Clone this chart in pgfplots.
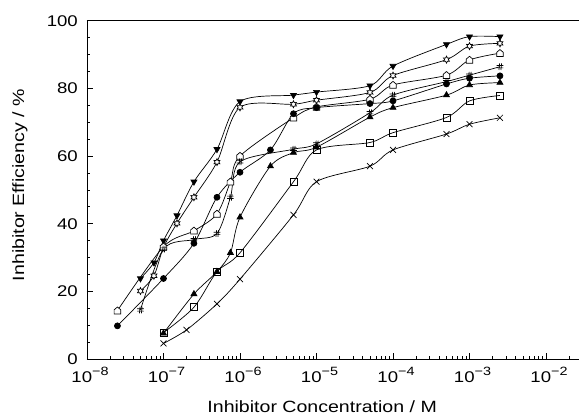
\documentclass[border=0pt]{standalone}
\usepackage{fontspec}
\setmainfont{Liberation Sans}[FakeStretch=1.2]
\usepackage{pgfplots}
\pgfplotsset{compat=1.18}
\usetikzlibrary{plotmarks}

\pgfdeclareplotmark{hexstar}{%
  \pgfpathmoveto{\pgfqpointpolar{90}{1.15\pgfplotmarksize}}%
  \pgfpathlineto{\pgfqpointpolar{120}{0.62\pgfplotmarksize}}%
  \pgfpathlineto{\pgfqpointpolar{150}{1.15\pgfplotmarksize}}%
  \pgfpathlineto{\pgfqpointpolar{180}{0.62\pgfplotmarksize}}%
  \pgfpathlineto{\pgfqpointpolar{210}{1.15\pgfplotmarksize}}%
  \pgfpathlineto{\pgfqpointpolar{240}{0.62\pgfplotmarksize}}%
  \pgfpathlineto{\pgfqpointpolar{270}{1.15\pgfplotmarksize}}%
  \pgfpathlineto{\pgfqpointpolar{300}{0.62\pgfplotmarksize}}%
  \pgfpathlineto{\pgfqpointpolar{330}{1.15\pgfplotmarksize}}%
  \pgfpathlineto{\pgfqpointpolar{0}{0.62\pgfplotmarksize}}%
  \pgfpathlineto{\pgfqpointpolar{30}{1.15\pgfplotmarksize}}%
  \pgfpathlineto{\pgfqpointpolar{60}{0.62\pgfplotmarksize}}%
  \pgfpathclose
  \pgfusepathqfillstroke}
\pgfdeclareplotmark{house}{%
  \pgfpathmoveto{\pgfqpoint{-\pgfplotmarksize}{-\pgfplotmarksize}}%
  \pgfpathlineto{\pgfqpoint{\pgfplotmarksize}{-\pgfplotmarksize}}%
  \pgfpathlineto{\pgfqpoint{\pgfplotmarksize}{0.25\pgfplotmarksize}}%
  \pgfpathlineto{\pgfqpoint{0pt}{1.1\pgfplotmarksize}}%
  \pgfpathlineto{\pgfqpoint{-\pgfplotmarksize}{0.25\pgfplotmarksize}}%
  \pgfpathclose
  \pgfusepathqfillstroke}
\pgfdeclareplotmark{hash}{%
  \pgfpathmoveto{\pgfqpoint{-0.3\pgfplotmarksize}{-\pgfplotmarksize}}%
  \pgfpathlineto{\pgfqpoint{-0.1\pgfplotmarksize}{\pgfplotmarksize}}%
  \pgfpathmoveto{\pgfqpoint{0.3\pgfplotmarksize}{-\pgfplotmarksize}}%
  \pgfpathlineto{\pgfqpoint{0.5\pgfplotmarksize}{\pgfplotmarksize}}%
  \pgfpathmoveto{\pgfqpoint{-\pgfplotmarksize}{0.35\pgfplotmarksize}}%
  \pgfpathlineto{\pgfqpoint{\pgfplotmarksize}{0.35\pgfplotmarksize}}%
  \pgfpathmoveto{\pgfqpoint{-\pgfplotmarksize}{-0.35\pgfplotmarksize}}%
  \pgfpathlineto{\pgfqpoint{\pgfplotmarksize}{-0.35\pgfplotmarksize}}%
  \pgfusepathqstroke}

\newcommand{\ex}[1]{10\raisebox{0.45em}{\fontsize{12}{12}\selectfont −#1}}

\begin{document}
\begin{tikzpicture}
\begin{axis}[
  scale only axis,
  width=492pt, height=338.3pt,
  xmode=log,
  xmin=1e-8, xmax=0.02698,
  ymin=0, ymax=100,
  axis x line*=box, axis y line*=left,
  tick pos=left,
  axis line style={line width=0.9pt},
  xtick={1e-8,1e-7,1e-6,1e-5,1e-4,1e-3,1e-2},
  xticklabels={\ex{8},\ex{7},\ex{6},\ex{5},\ex{4},\ex{3},\ex{2}},
  minor xtick={2e-8,3e-8,4e-8,5e-8,6e-8,7e-8,8e-8,9e-8,
               2e-7,3e-7,4e-7,5e-7,6e-7,7e-7,8e-7,9e-7,
               2e-6,3e-6,4e-6,5e-6,6e-6,7e-6,8e-6,9e-6,
               2e-5,3e-5,4e-5,5e-5,6e-5,7e-5,8e-5,9e-5,
               2e-4,3e-4,4e-4,5e-4,6e-4,7e-4,8e-4,9e-4,
               2e-3,3e-3,4e-3,5e-3,6e-3,7e-3,8e-3,9e-3,2e-2},
  ytick={0,20,40,60,80,100},
  minor y tick num=3,
  major tick length=6pt, minor tick length=3.5pt,
  every tick/.style={line width=0.7pt, black},
  /pgf/number format/assume math mode=true,
  tick label style={font=\fontsize{15.5}{16}\selectfont},
  yticklabel style={anchor=east, inner sep=0pt, xshift=-9pt},
  xticklabel style={anchor=north, inner sep=0pt, yshift=-8pt, xshift=3pt},
  xlabel={Inhibitor Concentration / M},
  ylabel={Inhibitor Efficiency / \%},
  label style={font=\fontsize{16.3}{18}\selectfont},
  xlabel style={at={(axis description cs:0.478,-0.1596)}, anchor=base},
  ylabel style={at={(axis description cs:-0.128,0.514)}, anchor=base},
  every axis plot/.append style={black, solid, line width=0.7pt, smooth, mark size=3pt},
  every mark/.append style={solid, line width=0.7pt},
]
% filled down triangle
\addplot[mark=triangle*, mark options={fill=black, rotate=180, scale=1.15}] coordinates {
(5e-8,23.8) (7.5e-8,28.5) (1e-7,35.0) (1.5e-7,42.4) (2.5e-7,52.4) (5e-7,62.0) (1e-6,76.1)
(5e-6,78.0) (1e-5,78.9) (5e-5,80.8) (1e-4,86.6) (5e-4,93.0) (1e-3,95.3) (2.5e-3,95.3)};
% open star
\addplot[mark=hexstar, mark options={fill=white}] coordinates {
(5e-8,20.1) (7.5e-8,24.6) (1e-7,33.0) (1.5e-7,40.1) (2.5e-7,47.8) (5e-7,58.2) (1e-6,74.4)
(5e-6,75.3) (1e-5,76.5) (5e-5,78.8) (1e-4,83.8) (5e-4,88.5) (1e-3,92.5) (2.5e-3,93.3)};
% open house / pentagon
\addplot[mark=house, mark options={fill=white, scale=1.1}] coordinates {
(2.5e-8,14.3) (1e-7,33.2) (2.5e-7,37.9) (5e-7,42.9) (7.5e-7,52.4) (1e-6,60.0)
(5e-6,71.3) (1e-5,74.5) (5e-5,76.8) (1e-4,81.0) (5e-4,83.9) (1e-3,88.4) (2.5e-3,90.4)};
% filled circle
\addplot[mark=*, mark options={fill=black}] coordinates {
(2.5e-8,9.8) (1e-7,23.8) (2.5e-7,34.2) (5e-7,47.8) (1e-6,55.2) (2.5e-6,61.8)
(5e-6,72.5) (1e-5,74.3) (5e-5,75.5) (1e-4,76.3) (5e-4,81.3) (1e-3,83.0) (2.5e-3,83.7)};
% hash
\addplot[mark=hash, mark options={scale=1.1}] coordinates {
(5e-8,14.5) (1e-7,32.5) (2.5e-7,35.3) (5e-7,37.1) (7.5e-7,47.8) (1e-6,58.3)
(5e-6,62.0) (1e-5,63.6) (5e-5,72.8) (1e-4,78.0) (5e-4,82.0) (1e-3,83.9) (2.5e-3,86.4)};
% filled up triangle
\addplot[mark=triangle*, mark options={fill=black, scale=1.15}] coordinates {
(1e-7,7.6) (2.5e-7,19.2) (5e-7,25.8) (7.5e-7,31.4) (1e-6,41.9) (2.5e-6,57.0)
(5e-6,61.0) (1e-5,62.6) (5e-5,71.5) (1e-4,74.3) (5e-4,78.0) (1e-3,81.0) (2.5e-3,81.7)};
% open square
\addplot[mark=square, mark options={fill=white, scale=1.15}] coordinates {
(1e-7,7.8) (2.5e-7,15.3) (5e-7,25.8) (1e-6,31.4) (5e-6,52.4) (1e-5,61.8)
(5e-5,64.0) (1e-4,66.9) (5e-4,71.4) (1e-3,76.3) (2.5e-3,77.9)};
% cross
\addplot[mark=x, mark options={scale=1.4}] coordinates {
(1e-7,4.6) (2e-7,8.6) (5e-7,16.3) (1e-6,23.6) (5e-6,42.6) (1e-5,52.4)
(5e-5,57.0) (1e-4,61.8) (5e-4,66.5) (1e-3,69.4) (2.5e-3,71.3)};
\end{axis}
\pgfresetboundingbox
\path[use as bounding box] (-87pt,-57pt) rectangle (492pt,338.3pt+20.7pt);
\end{tikzpicture}
\end{document}
